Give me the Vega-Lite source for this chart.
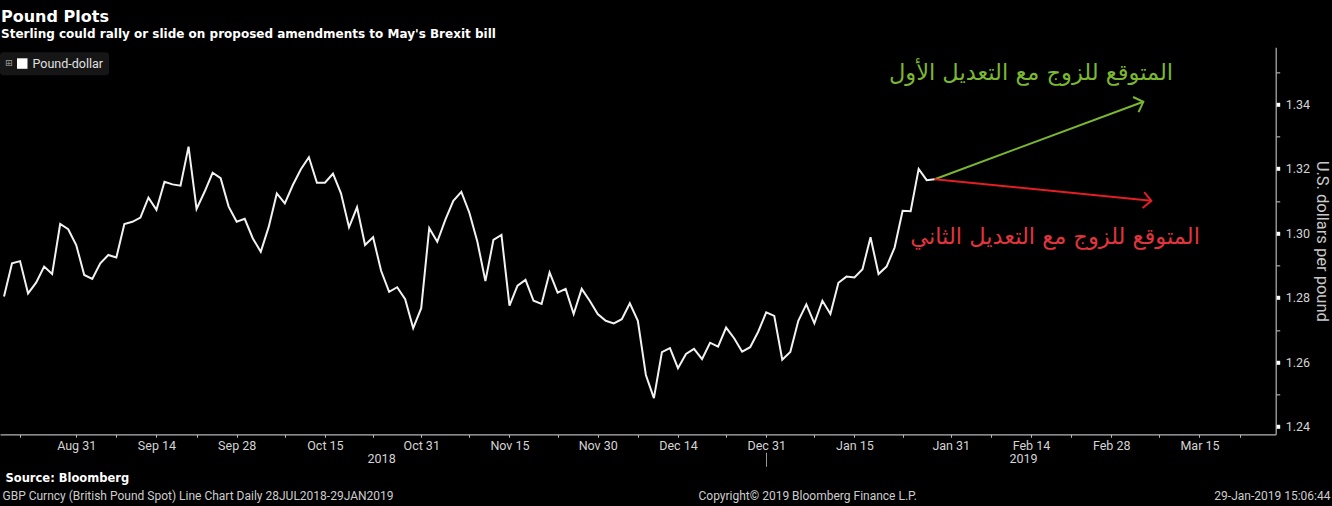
{
  "$schema": "https://vega.github.io/schema/vega-lite/v6.json",
  "background": "#000000",
  "autosize": {"type": "none"},
  "padding": {"left": 0, "top": 47.3, "right": 56.3, "bottom": 71.7},
  "width": 1275.7,
  "height": 387,
  "title": {
    "text": "Pound Plots",
    "subtitle": "Sterling could rally or slide on proposed amendments to May's Brexit bill",
    "anchor": "start",
    "frame": "group",
    "orient": "top",
    "offset": 7,
    "dx": 1,
    "font": "DejaVu Sans",
    "fontSize": 16,
    "fontWeight": "bold",
    "color": "#ffffff",
    "subtitleFont": "DejaVu Sans",
    "subtitleFontSize": 12,
    "subtitleFontWeight": "bold",
    "subtitleColor": "#ffffff",
    "subtitlePadding": 4
  },
  "config": {
    "view": {"stroke": null},
    "axis": {"grid": false}
  },
  "resolve": {"axis": {"x": "independent", "y": "independent"}, "scale": {"color": "independent"}},
  "layer": [
    {
      "data": {"values": [
        {"date": "2018-08-20", "value": 1.2803}, {"date": "2018-08-21", "value": 1.2906}, {"date": "2018-08-22", "value": 1.2913}, {"date": "2018-08-23", "value": 1.2813}, {"date": "2018-08-24", "value": 1.2846},
        {"date": "2018-08-27", "value": 1.2896}, {"date": "2018-08-28", "value": 1.2873}, {"date": "2018-08-29", "value": 1.3028}, {"date": "2018-08-30", "value": 1.3012}, {"date": "2018-08-31", "value": 1.2963},
        {"date": "2018-09-03", "value": 1.2870}, {"date": "2018-09-04", "value": 1.2858}, {"date": "2018-09-05", "value": 1.2906}, {"date": "2018-09-06", "value": 1.2932}, {"date": "2018-09-07", "value": 1.2924},
        {"date": "2018-09-10", "value": 1.3028}, {"date": "2018-09-11", "value": 1.3035}, {"date": "2018-09-12", "value": 1.3048}, {"date": "2018-09-13", "value": 1.3110}, {"date": "2018-09-14", "value": 1.3072},
        {"date": "2018-09-17", "value": 1.3159}, {"date": "2018-09-18", "value": 1.3151}, {"date": "2018-09-19", "value": 1.3147}, {"date": "2018-09-20", "value": 1.3268}, {"date": "2018-09-21", "value": 1.3075},
        {"date": "2018-09-24", "value": 1.3128}, {"date": "2018-09-25", "value": 1.3187}, {"date": "2018-09-26", "value": 1.3170}, {"date": "2018-09-27", "value": 1.3082}, {"date": "2018-09-28", "value": 1.3035},
        {"date": "2018-10-01", "value": 1.3044}, {"date": "2018-10-02", "value": 1.2984}, {"date": "2018-10-03", "value": 1.2942}, {"date": "2018-10-04", "value": 1.3020}, {"date": "2018-10-05", "value": 1.3123},
        {"date": "2018-10-08", "value": 1.3092}, {"date": "2018-10-09", "value": 1.3149}, {"date": "2018-10-10", "value": 1.3198}, {"date": "2018-10-11", "value": 1.3235}, {"date": "2018-10-12", "value": 1.3156},
        {"date": "2018-10-15", "value": 1.3156}, {"date": "2018-10-16", "value": 1.3184}, {"date": "2018-10-17", "value": 1.3123}, {"date": "2018-10-18", "value": 1.3018}, {"date": "2018-10-19", "value": 1.3080},
        {"date": "2018-10-22", "value": 1.2963}, {"date": "2018-10-23", "value": 1.2987}, {"date": "2018-10-24", "value": 1.2883}, {"date": "2018-10-25", "value": 1.2818}, {"date": "2018-10-26", "value": 1.2832},
        {"date": "2018-10-29", "value": 1.2795}, {"date": "2018-10-30", "value": 1.2705}, {"date": "2018-10-31", "value": 1.2767}, {"date": "2018-11-01", "value": 1.3015}, {"date": "2018-11-02", "value": 1.2973},
        {"date": "2018-11-05", "value": 1.3041}, {"date": "2018-11-06", "value": 1.3100}, {"date": "2018-11-07", "value": 1.3128}, {"date": "2018-11-08", "value": 1.3063}, {"date": "2018-11-09", "value": 1.2973},
        {"date": "2018-11-12", "value": 1.2851}, {"date": "2018-11-13", "value": 1.2979}, {"date": "2018-11-14", "value": 1.2994}, {"date": "2018-11-15", "value": 1.2775}, {"date": "2018-11-16", "value": 1.2837},
        {"date": "2018-11-19", "value": 1.2855}, {"date": "2018-11-20", "value": 1.2790}, {"date": "2018-11-21", "value": 1.2780}, {"date": "2018-11-22", "value": 1.2878}, {"date": "2018-11-23", "value": 1.2815},
        {"date": "2018-11-26", "value": 1.2827}, {"date": "2018-11-27", "value": 1.2749}, {"date": "2018-11-28", "value": 1.2827}, {"date": "2018-11-29", "value": 1.2790}, {"date": "2018-11-30", "value": 1.2749},
        {"date": "2018-12-03", "value": 1.2728}, {"date": "2018-12-04", "value": 1.2720}, {"date": "2018-12-05", "value": 1.2733}, {"date": "2018-12-06", "value": 1.2782}, {"date": "2018-12-07", "value": 1.2728},
        {"date": "2018-12-10", "value": 1.2560}, {"date": "2018-12-11", "value": 1.2488}, {"date": "2018-12-12", "value": 1.2631}, {"date": "2018-12-13", "value": 1.2643}, {"date": "2018-12-14", "value": 1.2581},
        {"date": "2018-12-17", "value": 1.2625}, {"date": "2018-12-18", "value": 1.2641}, {"date": "2018-12-19", "value": 1.2609}, {"date": "2018-12-20", "value": 1.2660}, {"date": "2018-12-21", "value": 1.2648},
        {"date": "2018-12-24", "value": 1.2707}, {"date": "2018-12-25", "value": 1.2674}, {"date": "2018-12-26", "value": 1.2632}, {"date": "2018-12-27", "value": 1.2646}, {"date": "2018-12-28", "value": 1.2694},
        {"date": "2018-12-31", "value": 1.2754}, {"date": "2019-01-01", "value": 1.2743}, {"date": "2019-01-02", "value": 1.2607}, {"date": "2019-01-03", "value": 1.2631}, {"date": "2019-01-04", "value": 1.2728},
        {"date": "2019-01-07", "value": 1.2779}, {"date": "2019-01-08", "value": 1.2720}, {"date": "2019-01-09", "value": 1.2790}, {"date": "2019-01-10", "value": 1.2749}, {"date": "2019-01-11", "value": 1.2846},
        {"date": "2019-01-14", "value": 1.2865}, {"date": "2019-01-15", "value": 1.2862}, {"date": "2019-01-16", "value": 1.2888}, {"date": "2019-01-17", "value": 1.2987}, {"date": "2019-01-18", "value": 1.2873},
        {"date": "2019-01-21", "value": 1.2896}, {"date": "2019-01-22", "value": 1.2955}, {"date": "2019-01-23", "value": 1.3069}, {"date": "2019-01-24", "value": 1.3068}, {"date": "2019-01-25", "value": 1.3199},
        {"date": "2019-01-28", "value": 1.3164}, {"date": "2019-01-29", "value": 1.3167}
      ]},
      "mark": {"type": "line", "strokeWidth": 2, "strokeJoin": "miter"},
      "encoding": {
        "x": {
          "field": "date", "type": "ordinal",
          "scale": {"type": "point", "padding": 0.5, "domain": [
            "2018-08-20","2018-08-21","2018-08-22","2018-08-23","2018-08-24","2018-08-27","2018-08-28","2018-08-29","2018-08-30","2018-08-31",
            "2018-09-03","2018-09-04","2018-09-05","2018-09-06","2018-09-07","2018-09-10","2018-09-11","2018-09-12","2018-09-13","2018-09-14",
            "2018-09-17","2018-09-18","2018-09-19","2018-09-20","2018-09-21","2018-09-24","2018-09-25","2018-09-26","2018-09-27","2018-09-28",
            "2018-10-01","2018-10-02","2018-10-03","2018-10-04","2018-10-05","2018-10-08","2018-10-09","2018-10-10","2018-10-11","2018-10-12",
            "2018-10-15","2018-10-16","2018-10-17","2018-10-18","2018-10-19","2018-10-22","2018-10-23","2018-10-24","2018-10-25","2018-10-26",
            "2018-10-29","2018-10-30","2018-10-31","2018-11-01","2018-11-02","2018-11-05","2018-11-06","2018-11-07","2018-11-08","2018-11-09",
            "2018-11-12","2018-11-13","2018-11-14","2018-11-15","2018-11-16","2018-11-19","2018-11-20","2018-11-21","2018-11-22","2018-11-23",
            "2018-11-26","2018-11-27","2018-11-28","2018-11-29","2018-11-30","2018-12-03","2018-12-04","2018-12-05","2018-12-06","2018-12-07",
            "2018-12-10","2018-12-11","2018-12-12","2018-12-13","2018-12-14","2018-12-17","2018-12-18","2018-12-19","2018-12-20","2018-12-21",
            "2018-12-24","2018-12-25","2018-12-26","2018-12-27","2018-12-28","2018-12-31","2019-01-01","2019-01-02","2019-01-03","2019-01-04",
            "2019-01-07","2019-01-08","2019-01-09","2019-01-10","2019-01-11","2019-01-14","2019-01-15","2019-01-16","2019-01-17","2019-01-18",
            "2019-01-21","2019-01-22","2019-01-23","2019-01-24","2019-01-25","2019-01-28","2019-01-29","2019-01-30","2019-01-31","2019-02-01",
            "2019-02-04","2019-02-05","2019-02-06","2019-02-07","2019-02-08","2019-02-11","2019-02-12","2019-02-13","2019-02-14","2019-02-15",
            "2019-02-18","2019-02-19","2019-02-20","2019-02-21","2019-02-22","2019-02-25","2019-02-26","2019-02-27","2019-02-28","2019-03-01",
            "2019-03-04","2019-03-05","2019-03-06","2019-03-07","2019-03-08","2019-03-11","2019-03-12","2019-03-13","2019-03-14","2019-03-15",
            "2019-03-18","2019-03-19","2019-03-20","2019-03-21","2019-03-22","2019-03-25","2019-03-26","2019-03-27","2019-03-28"
          ]},
          "axis": {
            "orient": "bottom",
            "title": null,
            "values": ["2018-08-22","2018-08-31","2018-09-07","2018-09-14","2018-09-21","2018-09-28","2018-10-08","2018-10-15","2018-10-23","2018-10-31","2018-11-08","2018-11-15","2018-11-23","2018-11-30","2018-12-07","2018-12-14","2018-12-24","2018-12-31","2019-01-08","2019-01-15","2019-01-23","2019-01-31","2019-02-07","2019-02-14","2019-02-21","2019-02-28","2019-03-08","2019-03-15","2019-03-22"],
            "labelExpr": "indexof(['2018-08-31','2018-09-14','2018-09-28','2018-10-15','2018-10-31','2018-11-15','2018-11-30','2018-12-14','2018-12-31','2019-01-15','2019-01-31','2019-02-14','2019-02-28','2019-03-15'], datum.value) >= 0 ? utcFormat(toDate(datum.value), '%b %d') : ''",
            "labelAngle": 0,
            "labelAlign": "center",
            "labelBaseline": "top",
            "labelFont": "Roboto",
            "labelFontSize": 12.5,
            "labelColor": "#d4d4d4",
            "labelPadding": 2,
            "labelOverlap": false,
            "tickSize": 3,
            "tickColor": "#b4b4b4",
            "domainColor": "#b4b4b4",
            "domainWidth": 1.2
          }
        },
        "y": {
          "field": "value", "type": "quantitative",
          "scale": {"domain": [1.2376, 1.3576], "nice": false, "zero": false},
          "axis": {
            "orient": "right",
            "title": "U.S. dollars per pound",
            "titleFont": "Roboto",
            "titleFontSize": 16.5,
            "titleFontWeight": "normal",
            "titleColor": "#c8c8c8",
            "titlePadding": 4,
            "values": [1.24, 1.25, 1.26, 1.27, 1.28, 1.29, 1.30, 1.31, 1.32, 1.33, 1.34, 1.35],
            "labelExpr": "round(datum.value * 100) % 2 == 0 ? format(datum.value, '.2f') : ''",
            "labelFont": "Roboto",
            "labelFontSize": 12.5,
            "labelColor": "#d4d4d4",
            "labelPadding": 5.5,
            "labelOverlap": false,
            "tickSize": 4,
            "tickColor": {"condition": {"test": "round(datum.value * 100) % 2 == 0", "value": "#ffffff"}, "value": "#8a8a8a"},
            "tickWidth": {"condition": {"test": "round(datum.value * 100) % 2 == 0", "value": 4}, "value": 1.5},
            "domainColor": "#b4b4b4",
            "domainWidth": 1.2
          }
        },
        "color": {
          "datum": "Pound-dollar", "type": "nominal",
          "scale": {"domain": ["Pound-dollar"], "range": ["#f2f2f2"]},
          "legend": {
            "orient": "none", "legendX": 0, "legendY": 5,
            "title": "⊞", "titleOrient": "left", "titleColor": "#8c8c8c", "titleFontSize": 9, "titlePadding": 3, "titleFont": "DejaVu Sans",
            "fillColor": "#161616", "padding": 5, "cornerRadius": 3,
            "symbolType": "square", "symbolSize": 110, "symbolFillColor": "#ffffff", "symbolStrokeColor": "#ffffff", "symbolStrokeWidth": 0,
            "labelColor": "#e0e0e0", "labelFont": "Roboto", "labelFontSize": 12.5
          }
        }
      }
    },
    {
      "data": {"values": [{"date": "2019-01-29", "value": 1.3167}, {"date": "2019-03-06", "value": 1.3407}]},
      "mark": {"type": "line", "color": "#7cb82f", "strokeWidth": 2},
      "encoding": {
        "x": {"field": "date", "type": "ordinal", "axis": {
          "orient": "bottom",
          "title": "Source: Bloomberg",
          "titleX": 5, "titleY": 25.7, "titleAlign": "left", "titleBaseline": "middle", "titleAnchor": "start",
          "titleFont": "DejaVu Sans", "titleFontSize": 11.5, "titleFontWeight": "bold", "titleColor": "#ffffff",
          "values": ["2018-10-24", "2018-12-31", "2019-02-13"],
          "labelExpr": "datum.value == '2018-10-24' ? '2018' : (datum.value == '2019-02-13' ? '2019' : '')",
          "labelAngle": 0, "labelAlign": "center", "labelBaseline": "top",
          "labelFont": "Roboto", "labelFontSize": 12.5, "labelColor": "#d4d4d4",
          "labelPadding": -14, "labelOverlap": false,
          "offset": 18, "domain": false,
          "tickSize": 14, "tickColor": "#9a9a9a",
          "tickOpacity": {"condition": {"test": "datum.value == '2018-12-31'", "value": 1}, "value": 0}
        }},
        "y": {"field": "value", "type": "quantitative", "axis": null}
      }
    },
    {
      "data": {"values": [{"date": "2019-01-29", "value": 1.3167}, {"date": "2019-03-07", "value": 1.3100}]},
      "mark": {"type": "line", "color": "#e31e24", "strokeWidth": 2},
      "encoding": {
        "x": {"field": "date", "type": "ordinal", "axis": {
          "orient": "bottom",
          "title": "GBP Curncy (British Pound Spot) Line Chart  Daily 28JUL2018-29JAN2019",
          "titleX": 2, "titleY": 60.7, "titleAlign": "left", "titleBaseline": "middle", "titleAnchor": "start",
          "titleFont": "Roboto", "titleFontSize": 12, "titleFontWeight": "normal", "titleColor": "#cdcdcd",
          "labels": false, "ticks": false, "domain": false
        }},
        "y": {"field": "value", "type": "quantitative", "axis": null}
      }
    },
    {
      "data": {"values": [{"date": "2019-03-06", "value": 1.3407}]},
      "mark": {"type": "point", "shape": "M-1,-1L0,0L-1,1", "filled": false, "size": 256, "angle": -20, "strokeWidth": 2, "color": "#7cb82f", "opacity": 1},
      "encoding": {
        "x": {"field": "date", "type": "ordinal", "axis": {
          "orient": "bottom",
          "title": "Copyright© 2019 Bloomberg Finance L.P.",
          "titleX": 698, "titleY": 60.7, "titleAlign": "left", "titleBaseline": "middle", "titleAnchor": "start",
          "titleFont": "Roboto", "titleFontSize": 12, "titleFontWeight": "normal", "titleColor": "#cdcdcd",
          "labels": false, "ticks": false, "domain": false
        }},
        "y": {"field": "value", "type": "quantitative", "axis": null}
      }
    },
    {
      "data": {"values": [{"date": "2019-03-07", "value": 1.3100}]},
      "mark": {"type": "point", "shape": "M-1,-1L0,0L-1,1", "filled": false, "size": 256, "angle": 5.7, "strokeWidth": 2, "color": "#e31e24", "opacity": 1},
      "encoding": {
        "x": {"field": "date", "type": "ordinal", "axis": {
          "orient": "bottom",
          "title": "29-Jan-2019 15:06:44",
          "titleX": 1330, "titleY": 60.7, "titleAlign": "right", "titleBaseline": "middle", "titleAnchor": "end",
          "titleFont": "Roboto", "titleFontSize": 12, "titleFontWeight": "normal", "titleColor": "#cdcdcd",
          "labels": false, "ticks": false, "domain": false
        }},
        "y": {"field": "value", "type": "quantitative", "axis": null}
      }
    },
    {
      "data": {"values": [{"date": "2019-02-14", "value": 1.3496, "label": "المتوقع للزوج مع التعديل الأول"}]},
      "mark": {"type": "text", "font": "DejaVu Sans", "fontSize": 22.5, "align": "center", "baseline": "middle", "color": "#7cb82f"},
      "encoding": {
        "x": {"field": "date", "type": "ordinal", "axis": null},
        "y": {"field": "value", "type": "quantitative", "axis": null},
        "text": {"field": "label"}
      }
    },
    {
      "data": {"values": [{"date": "2019-02-19", "value": 1.2988, "label": "المتوقع للزوج مع التعديل الثاني"}]},
      "mark": {"type": "text", "font": "DejaVu Sans", "fontSize": 22.5, "align": "center", "baseline": "middle", "color": "#e2343f"},
      "encoding": {
        "x": {"field": "date", "type": "ordinal", "axis": null},
        "y": {"field": "value", "type": "quantitative", "axis": null},
        "text": {"field": "label"}
      }
    }
  ]
}
